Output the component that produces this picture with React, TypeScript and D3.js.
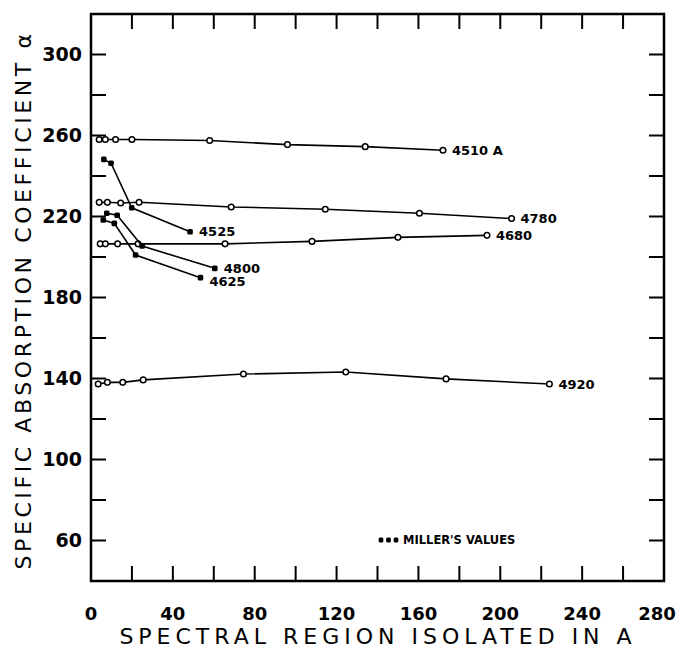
import React from "react";
import * as d3 from "d3";

// spectral region isolated (A) vs specific absorption coefficient
const openSeries = [
  { name: "4510 A", x: [4, 7, 12, 20, 58, 96, 134, 172], y: [258, 258, 258, 258, 257.5, 255.5, 254.5, 252.7] },
  { name: "4780", x: [4, 8, 14.5, 23.5, 68.5, 114.5, 160.5, 205.5], y: [227, 227, 226.7, 227, 224.7, 223.6, 221.6, 219] },
  { name: "4680", x: [4.5, 7, 13, 23, 65.5, 108, 150, 193.5], y: [206.5, 206.5, 206.5, 206.5, 206.5, 207.7, 209.7, 210.7] },
  { name: "4920", x: [3.5, 8, 15.5, 25.5, 74.5, 124.5, 173.5, 224], y: [137.3, 138.1, 138.1, 139.3, 142.2, 143.2, 139.8, 137.3] },
];

// Miller's values (filled)
const millerSeries = [
  { name: "4525", x: [6.3, 9.8, 19.9, 48.4], y: [248.2, 246.3, 224.3, 212.5], dy: 0 },
  { name: "4800", x: [7.7, 12.8, 25, 60.5], y: [221.6, 220.6, 205.4, 194.4], dy: 0 },
  { name: "4625", x: [6, 11.4, 21.8, 53.5], y: [218.3, 216.6, 201, 189.8], dy: 4 },
];

const xTickLabels = [0, 40, 80, 120, 160, 200, 240, 280];
const yTickLabels = [60, 100, 140, 180, 220, 260, 300];

const W = 681, H = 650;
const left = 91, right = 664, top = 14, bottom = 581;
const font = "'DejaVu Sans', sans-serif";

export default function App() {
  const x = d3.scaleLinear().domain([0, 280]).range([left, right]);
  const y = d3.scaleLinear().domain([40, 320]).range([bottom, top]);
  const line = d3.line<[number, number]>().x(d => x(d[0])).y(d => y(d[1]));

  const xMinor = d3.range(20, 280, 20);
  const yMinor = d3.range(60, 320, 20);
  const tl = 15;

  return (
    <svg width={W} height={H} style={{ position: "absolute", left: 0, top: 0, background: "#fff" }}>
      <rect x={left} y={top} width={right - left} height={bottom - top} fill="none" stroke="#000" strokeWidth={2.5} />
      {xMinor.map(v => (
        <g key={"xt" + v}>
          <line x1={x(v)} x2={x(v)} y1={bottom} y2={bottom - tl} stroke="#000" strokeWidth={2} />
          <line x1={x(v)} x2={x(v)} y1={top} y2={top + tl} stroke="#000" strokeWidth={2} />
        </g>
      ))}
      {yMinor.map(v => (
        <g key={"yt" + v}>
          <line x1={left} x2={left + tl} y1={y(v)} y2={y(v)} stroke="#000" strokeWidth={2} />
          <line x1={right} x2={right - tl} y1={y(v)} y2={y(v)} stroke="#000" strokeWidth={2} />
        </g>
      ))}
      {xTickLabels.map(v => (
        <text key={"xl" + v} x={Math.min(x(v), 657)} y={620} textAnchor="middle" fontFamily={font} fontWeight="bold" fontSize={18} fill="#000">{v}</text>
      ))}
      {yTickLabels.map(v => (
        <text key={"yl" + v} x={82} y={y(v)} dy="0.35em" textAnchor="end" fontFamily={font} fontWeight="bold" fontSize={19} fill="#000">{v}</text>
      ))}
      <text x={378} y={644} textAnchor="middle" fontFamily={font} fontSize={22} letterSpacing={5} fill="#000">SPECTRAL REGION ISOLATED IN A</text>
      <text transform="translate(31,300) rotate(-90)" textAnchor="middle" fontFamily={font} fontSize={22} letterSpacing={3.6} fill="#000">SPECIFIC ABSORPTION COEFFICIENT α</text>

      {openSeries.map(s => {
        const pts = s.x.map((v, i) => [v, s.y[i]] as [number, number]);
        const last = pts[pts.length - 1];
        return (
          <g key={s.name}>
            <path d={line(pts) || ""} fill="none" stroke="#000" strokeWidth={1.6} />
            {pts.map((p, i) => (
              <circle key={i} cx={x(p[0])} cy={y(p[1])} r={2.8} fill="#fff" stroke="#000" strokeWidth={1.5} />
            ))}
            <text x={x(last[0]) + 9} y={y(last[1])} dy="0.35em" fontFamily={font} fontWeight="bold" fontSize={13} fill="#000">{s.name}</text>
          </g>
        );
      })}
      {millerSeries.map(s => {
        const pts = s.x.map((v, i) => [v, s.y[i]] as [number, number]);
        const last = pts[pts.length - 1];
        return (
          <g key={s.name}>
            <path d={line(pts) || ""} fill="none" stroke="#000" strokeWidth={1.6} />
            {pts.map((p, i) => (
              <rect key={i} x={x(p[0]) - 2.8} y={y(p[1]) - 2.8} width={5.6} height={5.6} rx={1.5} fill="#000" />
            ))}
            <text x={x(last[0]) + 9} y={y(last[1]) + s.dy} dy="0.35em" fontFamily={font} fontWeight="bold" fontSize={13} fill="#000">{s.name}</text>
          </g>
        );
      })}

      {[381, 388.5, 396].map(px => (
        <rect key={px} x={px - 2.4} y={537.6} width={4.8} height={4.8} rx={1.5} fill="#000" />
      ))}
      <text x={403} y={540} dy="0.35em" fontFamily={font} fontWeight="bold" fontSize={11.5} fill="#000">MILLER'S VALUES</text>
    </svg>
  );
}
